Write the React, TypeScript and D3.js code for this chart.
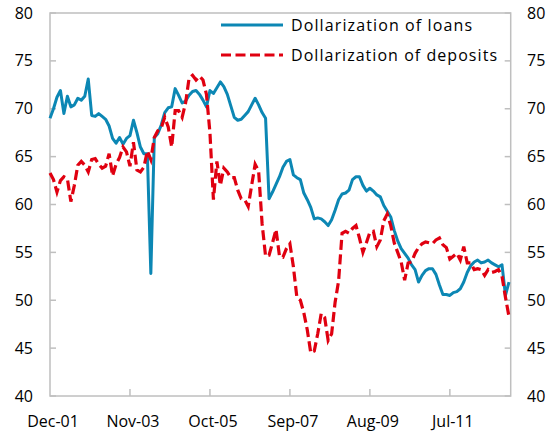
import React from "react";
import * as d3 from "d3";

const tickLabels = ["Dec-01", "Nov-03", "Oct-05", "Sep-07", "Aug-09", "Jul-11"];
const tickIndex = [0, 23, 46, 69, 92, 115];
const yTicks = [40, 45, 50, 55, 60, 65, 70, 75, 80];

const loans = [
  69.0, 70.0, 71.2, 71.9, 69.5, 71.3, 70.2, 70.4, 71.1, 70.9,
  71.3, 73.1, 69.3, 69.2, 69.5, 69.2, 68.9, 68.2, 66.9, 66.4,
  67.0, 66.3, 66.9, 67.2, 68.8, 67.5, 66.0, 65.3, 65.3, 52.8,
  67.0, 67.4, 68.3, 69.6, 70.1, 70.2, 72.1, 71.4, 70.6, 70.8,
  71.4, 71.8, 71.9, 71.5, 70.9, 70.2, 71.9, 71.6, 72.2, 72.8,
  72.3, 71.5, 70.3, 69.1, 68.8, 68.9, 69.3, 69.7, 70.4, 71.1,
  70.4, 69.6, 69.0, 60.6, 61.3, 62.1, 62.9, 63.9, 64.5, 64.7,
  63.1, 62.8, 62.6, 61.2, 60.5, 59.7, 58.5, 58.6, 58.5, 58.2,
  57.8, 58.4, 59.4, 60.5, 61.1, 61.2, 61.5, 62.6, 62.9, 62.9,
  62.0, 61.4, 61.7, 61.4, 61.0, 60.8, 59.9, 59.3, 58.7, 57.3,
  56.2, 55.4, 54.9, 54.4, 53.7, 53.2, 51.9, 52.6, 53.1, 53.3,
  53.3, 52.7, 51.6, 50.6, 50.6, 50.5, 50.8, 50.9, 51.2, 51.9,
  52.9, 53.6, 54.0, 54.2, 53.9, 54.0, 54.2, 53.9, 53.7, 53.5,
  53.7, 50.5, 51.9,
];

const deposits = [
  63.3, 62.6, 61.3, 62.5, 62.9, 62.7, 60.3, 62.0, 64.1, 64.5,
  64.1, 63.4, 64.7, 64.8, 64.2, 63.8, 64.0, 65.3, 63.0, 64.2,
  64.9, 66.0, 65.5, 64.0, 66.5, 63.6, 63.4, 63.9, 65.6, 64.7,
  67.0, 67.7, 68.0, 69.1, 68.1, 66.0, 69.8, 69.8, 69.1, 70.6,
  73.2, 73.5, 73.0, 73.4, 73.0, 71.5, 67.5, 60.5, 64.5, 62.0,
  63.8, 63.4, 62.8, 62.8, 61.5, 60.6, 60.5, 59.8, 62.0, 64.2,
  63.5, 58.0, 54.6, 54.7, 56.0, 57.4, 54.6, 54.5, 55.4, 55.9,
  53.5, 50.3, 50.0, 48.7, 46.9, 44.5, 44.7, 46.5, 48.6, 48.2,
  45.8, 46.5, 49.8, 52.0, 57.0, 57.2, 57.0, 57.5, 57.8, 56.5,
  55.0, 56.0, 57.1, 57.2, 55.6, 56.3, 58.3, 59.0, 57.8, 56.0,
  55.0, 54.0, 52.1, 53.9, 54.0, 54.9, 55.5, 55.9, 56.1, 56.0,
  55.9, 56.3, 56.5, 55.8, 55.5, 54.3, 54.6, 54.9, 54.2, 55.6,
  53.9, 53.9, 53.2, 53.3, 53.2, 52.6, 53.2, 52.9, 53.0, 53.2,
  52.5, 50.3, 48.3,
];

const seriesNames = ["Dollarization of loans", "Dollarization of deposits"];

const W = 550;
const H = 440;
const left = 50;
const right = 510.7;
const top = 13;
const bottom = 396;

const BLUE = "#0C87B4";
const RED = "#E00010";
const AXIS = "#BFBFBF";
const FONT = "'Open Sans', 'Liberation Sans', sans-serif";
const DASH = "10,4.5";

export default function App() {
  const x = d3.scaleLinear().domain([0, 132.5]).range([left, right]);
  const y = d3.scaleLinear().domain([40, 80]).range([bottom, top]);
  const line = d3
    .line<number>()
    .x((_, i) => x(i))
    .y((d) => y(d));

  return (
    <svg
      width={W}
      height={H}
      style={{ position: "absolute", left: 0, top: 0, background: "#fff" }}
      fontFamily={FONT}
    >
      <rect x={0} y={0} width={W} height={H} fill="#fff" />
      <rect
        x={left}
        y={top}
        width={right - left}
        height={bottom - top}
        fill="none"
        stroke={AXIS}
        strokeWidth={1.5}
      />
      {yTicks.map((t) => (
        <g key={"y" + t}>
          <line x1={left} x2={left + 6} y1={y(t)} y2={y(t)} stroke={AXIS} strokeWidth={1.5} />
          <line x1={right - 6} x2={right} y1={y(t)} y2={y(t)} stroke={AXIS} strokeWidth={1.5} />
          <text x={33} y={y(t)} dy="0.35em" textAnchor="end" fontSize={16} fill="#000">
            {t}
          </text>
          <text x={527} y={y(t)} dy="0.35em" textAnchor="start" fontSize={16} fill="#000">
            {t}
          </text>
        </g>
      ))}
      {tickIndex.map((ti, k) => (
        <g key={"x" + ti}>
          {k > 0 && (
            <line x1={x(ti)} x2={x(ti)} y1={bottom} y2={bottom - 7} stroke={AXIS} strokeWidth={1.5} />
          )}
          <text x={x(ti) + 3} y={427} textAnchor="middle" fontSize={16} fill="#000">
            {tickLabels[k]}
          </text>
        </g>
      ))}
      <path d={line(loans) || ""} fill="none" stroke={BLUE} strokeWidth={3} strokeLinejoin="round" />
      <path
        d={line(deposits) || ""}
        fill="none"
        stroke={RED}
        strokeWidth={3.2}
        strokeDasharray={DASH}
      />
      <line x1={221} x2={283} y1={25} y2={25} stroke={BLUE} strokeWidth={3} />
      <text x={291} y={25} dy="0.35em" fontSize={16} fill="#000" textLength={181}>
        {seriesNames[0]}
      </text>
      <line x1={221} x2={283} y1={55} y2={55} stroke={RED} strokeWidth={3.2} strokeDasharray={DASH} />
      <text x={291} y={55} dy="0.35em" fontSize={16} fill="#000" textLength={206}>
        {seriesNames[1]}
      </text>
    </svg>
  );
}
